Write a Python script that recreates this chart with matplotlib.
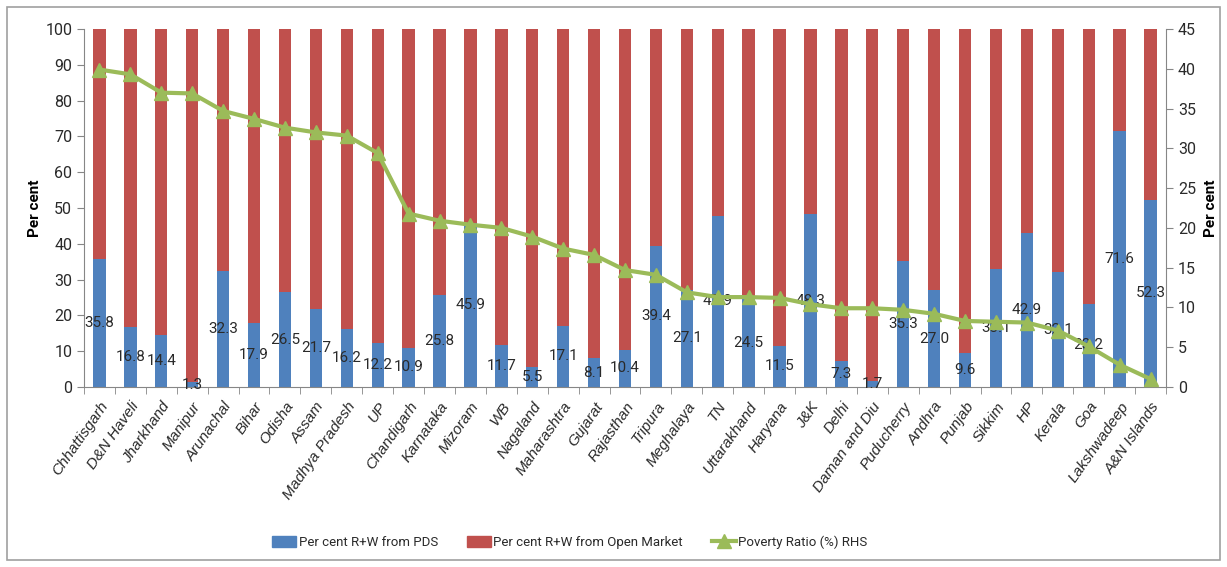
import numpy as np
import matplotlib
matplotlib.use("Agg")
import matplotlib.pyplot as plt
from matplotlib.lines import Line2D
from matplotlib.patches import Patch, Rectangle

plt.rcParams['font.family'] = ['Roboto', 'DejaVu Sans']

states = ['Chhattisgarh', 'D&N Haveli', 'Jharkhand', 'Manipur', 'Arunachal', 'Bihar',
          'Odisha', 'Assam', 'Madhya Pradesh', 'UP', 'Chandigarh', 'Karnataka', 'Mizoram',
          'WB', 'Nagaland', 'Maharashtra', 'Gujarat', 'Rajasthan', 'Tripura', 'Meghalaya',
          'TN', 'Uttarakhand', 'Haryana', 'J&K', 'Delhi', 'Daman and Diu', 'Puducherry',
          'Andhra', 'Punjab', 'Sikkim', 'HP', 'Kerala', 'Goa', 'Lakshwadeep', 'A&N Islands']
pds = [35.8, 16.8, 14.4, 1.3, 32.3, 17.9, 26.5, 21.7, 16.2, 12.2, 10.9, 25.8, 45.9,
       11.7, 5.5, 17.1, 8.1, 10.4, 39.4, 27.1, 47.9, 24.5, 11.5, 48.3, 7.3, 1.7, 35.3,
       27.0, 9.6, 33.1, 42.9, 32.1, 23.2, 71.6, 52.3]
poverty = [39.9, 39.3, 37.0, 36.9, 34.7, 33.7, 32.6, 32.0, 31.6, 29.4, 21.8, 20.9, 20.4,
           20.0, 18.9, 17.4, 16.6, 14.7, 14.1, 11.9, 11.3, 11.3, 11.2, 10.4, 9.9, 9.9,
           9.7, 9.2, 8.3, 8.2, 8.1, 7.1, 5.1, 2.8, 1.0]
open_mkt = [100 - v for v in pds]

blue = '#4F81BD'
red = '#C0504D'
green = '#9BBB59'
gray = '#868686'
txt = '#2a2a2a'

fig = plt.figure(figsize=(12.27, 5.67), dpi=100)
fig.patches.append(Rectangle((7 / 1227, 7 / 567), 1213 / 1227, 553 / 567,
                             transform=fig.transFigure, fill=False,
                             edgecolor='#A0A0A0', linewidth=1.2))
ax = fig.add_axes([84 / 1227, 1 - 387 / 567, (1166 - 84) / 1227, (387 - 29) / 567])
x = np.arange(len(states))
ax.bar(x, pds, width=0.4, color=blue, zorder=2)
ax.bar(x, open_mkt, width=0.4, bottom=pds, color=red, zorder=2)
for xi, v in zip(x, pds):
    ax.text(xi, v / 2, f'{v:.1f}', ha='center', va='center', fontsize=11,
            color=txt, zorder=5)

ax.set_xlim(-0.5, len(states) - 0.5)
ax.set_ylim(0, 100)
ax.set_yticks(range(0, 101, 10))
ax.set_xticks(x)
ax.set_xticklabels(states, rotation=55, ha='right', rotation_mode='anchor',
                   fontstyle='italic', fontsize=11,
                   family=['Liberation Sans', 'DejaVu Sans'])
ax.set_xticks(np.arange(-0.5, len(states), 1), minor=True)
ax.tick_params(axis='x', which='major', length=0, pad=9, labelcolor=txt)
ax.tick_params(axis='x', which='minor', length=5, color=gray)
ax.tick_params(axis='y', length=5, color=gray, labelsize=11.5, labelcolor=txt)
ax.set_ylabel('Per cent', fontweight='bold', fontsize=11, labelpad=2)
for s in ['top', 'right']:
    ax.spines[s].set_visible(False)
for s in ['left', 'bottom']:
    ax.spines[s].set_color(gray)

ax2 = ax.twinx()
ax2.plot(x, poverty, color=green, linewidth=3, marker='^', markersize=10, zorder=4)
ax2.set_ylim(0, 45)
ax2.set_yticks(range(0, 46, 5))
ax2.tick_params(axis='y', length=5, color=gray, labelsize=11.5, labelcolor=txt)
ax2.set_ylabel('Per cent', fontweight='bold', fontsize=11, labelpad=6)
for s in ['top', 'left', 'bottom']:
    ax2.spines[s].set_visible(False)
ax2.spines['right'].set_color(gray)

handles = [Patch(color=blue), Patch(color=red),
           Line2D([], [], color=green, linewidth=3, marker='^', markersize=10)]
fig.legend(handles, ['Per cent R+W from PDS', 'Per cent R+W from Open Market',
                     'Poverty Ratio (%) RHS'],
           loc='center', bbox_to_anchor=(570 / 1227, 1 - 542 / 567), ncol=3, frameon=False,
           fontsize=9.5, handlelength=1.8, handleheight=0.9, columnspacing=2.2,
           handletextpad=0.2, labelcolor=txt)

fig.savefig('out.png', dpi=100)
